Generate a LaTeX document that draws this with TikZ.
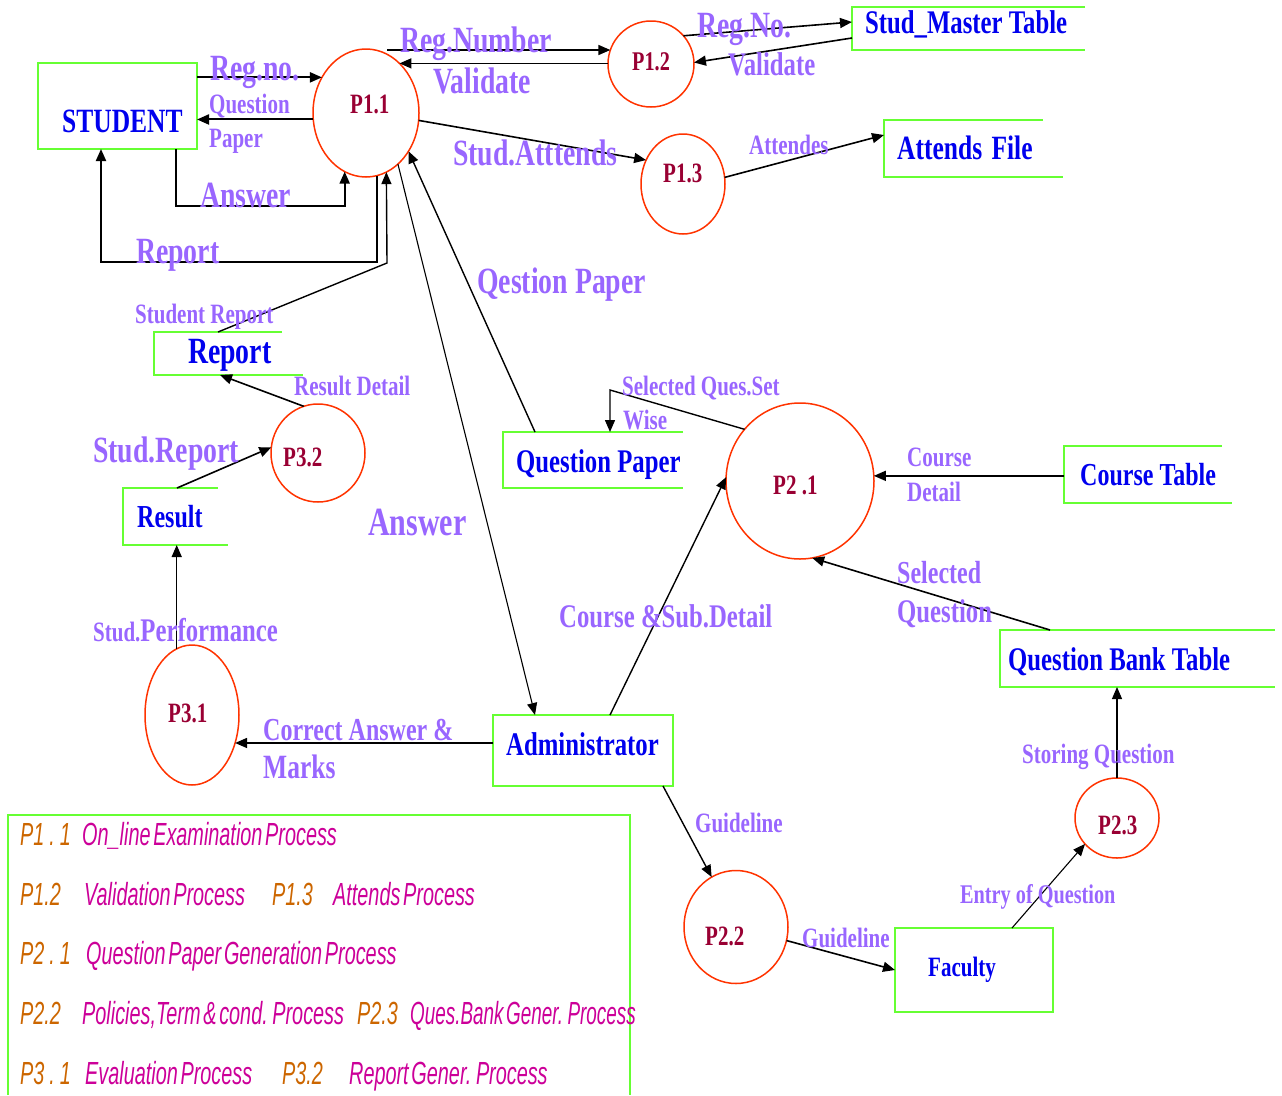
\documentclass[tikz,border=0pt]{standalone}
\usepackage{fontspec}
\usetikzlibrary{shapes.geometric,arrows.meta,calc}
\newfontfamily\tnr[FakeStretch=0.75]{Liberation Serif}
\newfontfamily\arn[FakeStretch=0.62,WordSpace=0.5]{Liberation Sans}
\newfontfamily\arnc[FakeStretch=0.59,WordSpace=0.5]{Liberation Sans}
\definecolor{lblpurple}{HTML}{9966FF}
\definecolor{boxblue}{HTML}{0000EE}
\definecolor{boxgreen}{HTML}{66FF33}
\definecolor{procred}{HTML}{FF3300}
\definecolor{proctext}{HTML}{990033}
\definecolor{legorange}{HTML}{CC6600}
\definecolor{legmagenta}{HTML}{CC0099}
\newcommand{\fsz}[1]{\fontsize{#1}{#1}\selectfont}
\begin{document}
\begin{tikzpicture}[x=1pt,y=-1pt,
  store/.style={rectangle, draw=none, inner sep=0pt, outer sep=0pt},
  fullbox/.style={rectangle, draw=boxgreen, line width=2pt, inner sep=0pt, outer sep=0pt},
  gline/.style={draw=boxgreen, line width=2pt},
  proc/.style={ellipse, draw=procred, line width=1.5pt, inner sep=0pt, outer sep=0pt},
  arr/.style={draw=black, line width=1.6pt, -{Triangle[length=12pt,width=10pt]}},
  thinarr/.style={arr, line width=1.1pt},
  boxtxt/.style={anchor=base west, inner sep=0pt, text=boxblue, font=\tnr\bfseries\fsz{#1}},
  ptxt/.style={anchor=base west, inner sep=0pt, text=proctext, font=\tnr\bfseries\fsz{#1}},
  lbl/.style={anchor=base west, inner sep=0pt, text=lblpurple, font=\tnr\bfseries\fsz{#1}},
  legp/.style={anchor=base west, inner sep=0pt, text=legorange, font=\arn\itshape\fsz{32}},
  legd/.style={anchor=base west, inner sep=0pt, text=legmagenta, font=\arn\itshape\fsz{32}}
]
\useasboundingbox (0,0) rectangle (1282,1095);

% ---------- external entities and data stores ----------
\node[fullbox, minimum width=159, minimum height=86] (student) at (117.5,106) {};
\node[store, minimum width=233, minimum height=43] (master) at (968.5,28.5) {};
\node[store, minimum width=159, minimum height=57] (attfile) at (963.5,148.5) {};
\node[store, minimum width=128, minimum height=43] (report) at (218,353.5) {};
\node[store, minimum width=95, minimum height=57] (result) at (170.5,516.5) {};
\node[store, minimum width=180, minimum height=56] (qpaper) at (593,460) {};
\node[store, minimum width=158, minimum height=57] (course) at (1143,474.5) {};
\node[store, minimum width=275, minimum height=57] (qbank) at (1137.5,658.5) {};
\node[fullbox, minimum width=180, minimum height=71] (admin) at (583,750.5) {};
\node[fullbox, line width=1.5pt, minimum width=158, minimum height=84] (faculty) at (974,970) {};

% open-ended store outlines
\draw[gline] (master.north east) -- (master.north west) -- (master.south west) -- (master.south east);
\draw[gline] (attfile.north east) -- (attfile.north west) -- (attfile.south west) -- ($(attfile.south east)+(20,0)$);
\draw[gline] (report.north east) -- (report.north west) -- (report.south west) -- ($(report.south east)+(21,0)$);
\draw[gline] (result.north east) -- (result.north west) -- (result.south west) -- ($(result.south east)+(10,0)$);
\draw[gline] (qpaper.north east) -- (qpaper.north west) -- (qpaper.south west) -- (qpaper.south east);
\draw[gline] (course.north east) -- (course.north west) -- (course.south west) -- ($(course.south east)+(10,0)$);
\draw[gline] (qbank.north east) -- (qbank.north west) -- (qbank.south west) -- (qbank.south east);

% ---------- processes ----------
\node[proc, minimum width=106, minimum height=128] (p11) at (366,113) {};
\node[proc, minimum width=86, minimum height=86] (p12) at (651,64) {};
\node[proc, minimum width=84, minimum height=100] (p13) at (683,184) {};
\node[proc, minimum width=148, minimum height=156] (p21) at (800,481) {};
\node[proc, minimum width=104, minimum height=113] (p22) at (736,927) {};
\node[proc, minimum width=84, minimum height=80] (p23) at (1117,818) {};
\node[proc, minimum width=94, minimum height=140] (p31) at (192,715) {};
\node[proc, minimum width=94, minimum height=98] (p32) at (318,453) {};

% ---------- titles ----------
\node[boxtxt=34] (studentT) at (62,132) {STUDENT};
\node[boxtxt=33] (masterT) at (865,33) {Stud\_Master Table};
\node[boxtxt=34] (attfileT) at (897,159) {Attends\kern3pt\ File};
\node[boxtxt=37] (reportT) at (188,363) {Report};
\node[boxtxt=32] (resultT) at (137,527) {Result};
\node[boxtxt=33] (qpaperT) at (516,472) {Question Paper};
\node[boxtxt=32] (courseT) at (1080,485) {Course Table};
\node[boxtxt=33] (qbankT) at (1008,670) {Question Bank Table};
\node[boxtxt=33] (adminT) at (506,755) {Administrator};
\node[boxtxt=28] (facultyT) at (928,976) {Faculty};

\node[ptxt=28] (p11T) at (350,113) {P1.1};
\node[ptxt=27] (p12T) at (632,70) {P1.2};
\node[ptxt=28] (p13T) at (663,182) {P1.3};
\node[ptxt=28] (p21T) at (773,494) {P2 .1};
\node[ptxt=28] (p22T) at (705,945) {P2.2};
\node[ptxt=28] (p23T) at (1098,834) {P2.3};
\node[ptxt=28] (p31T) at (168,722) {P3.1};
\node[ptxt=28] (p32T) at (283,466) {P3.2};

% ---------- data flows ----------
\draw[arr, line width=2pt] (student.east |- p11.141.5) -- (p11.141.5);
\draw[arr, line width=2pt] (p11.187.6) -- (student.east |- p11.187.6);
\draw[arr, line width=2pt] ($(student.south west)+(138,0)$) -- ++(0,57) -| (p11.250.3);
\draw[arr, line width=2pt] (p11.280) |- ($(student.south west)+(63,113)$) -- ($(student.south west)+(63,0)$);
\coordinate (srbend) at (387,263);
\draw[arr, line width=1.4pt] ($(report.north west)+(64,0)$) -- (srbend) -- (p11.289.7);
\draw[arr] (p11.70 |- p12.161) -- (p12.161);
\draw[arr] (p12.west |- p11.56.5) -- (p11.56.5);
\draw[arr] (p12.41) -- ($(master.north west)+(0,15)$);
\draw[arr] ($(master.north west)+(0,31)$) -- (p12.2);
\draw[arr] (p11.352.5) -- (p13.147.5);
\draw[arr] (p13.9) -- ($(attfile.north west)+(0,15)$);
\draw[thinarr, line width=1.4pt] ($(qpaper.north west)+(32,0)$) -- (p11.318.5);
\draw[thinarr] (p11.302.6) -- ($(admin.north west)+(42,0)$);
\draw[thinarr, line width=1.4pt] (p21.137.8) -- ($(qpaper.north west)+(107,-42)$) -- ($(qpaper.north west)+(107,0)$);
\draw[arr] (course.west |- p21.4.6) -- (p21.4.6);
\draw[arr] ($(qbank.north west)+(50,0)$) -- (p21.279.2);
\draw[thinarr, line width=1.4pt] ($(admin.north west)+(117,0)$) -- (p21.177);
\draw[thinarr, line width=1.4pt] ($(admin.south east)+(-10,0)$) -- (p22.116);
\draw[arr] (p22.345) -- (faculty.west);
\draw[thinarr] ($(faculty.north west)+(117,0)$) -- (p23.219);
\draw[thinarr] (p23.north) -- (p23.north |- qbank.south);
\draw[arr] (admin.west |- p31.327) -- (p31.327);
\draw[thinarr, line width=1.4pt] (p31.103.6) -- (p31.103.6 |- result.south);
\draw[arr] ($(result.north west)+(54,0)$) -- (p32.173);
\draw[arr] (p32.107) -- ($(report.south west)+(66,0)$);

% ---------- flow labels ----------
\node[lbl=37] (lRegno) at (210,80) {Reg.no.};
\node[lbl=28] (lQues) at (209,113) {Question};
\node[lbl=28] (lPaper) at (209,147) {Paper};
\node[lbl=37] (lAns1) at (200,207) {Answer};
\node[lbl=37] (lRep) at (136,263) {Report};
\node[lbl=37] (lRegNum) at (400,52) {Reg.Number};
\node[lbl=37] (lVal1) at (433,93) {Validate};
\node[lbl=37] (lRegNo) at (697,37) {Reg.No.};
\node[lbl=33] (lVal2) at (728,75) {Validate};
\node[lbl=37] (lAtt) at (453,165) {Stud.Atttends};
\node[lbl=28] (lAttds) at (749,154) {Attendes};
\node[lbl=37] (lQest) at (477,293) {Qestion Paper};
\node[lbl=28] (lStRep) at (135,323) {Student Report};
\node[lbl=28] (lResDet) at (294,395) {Result Detail};
\node[lbl=37] (lStudRep) at (93,462) {Stud.Report};
\node[lbl=40] (lAns2) at (368,535) {Answer};
\node[lbl=28] (lSelSet) at (622,395) {Selected Ques.Set};
\node[lbl=28] (lWise) at (623,429) {Wise};
\node[lbl=28] (lCourse) at (907,466) {Course};
\node[lbl=28] (lDetail) at (907,501) {Detail};
\node[lbl=32] (lSel) at (897,583) {Selected};
\node[lbl=33] (lSelQ) at (897,622) {Question};
\node[lbl=33] (lCSD) at (559,627) {Course \&Sub.Detail};
\node[lbl=28] (lPerf) at (93,641) {Stud.{\fsz{33}Performance}};
\node[lbl=32] (lCorr) at (263,740) {Correct Answer \&};
\node[lbl=34] (lMarks) at (263,778) {Marks};
\node[lbl=28] (lGuide1) at (695,832) {Guideline};
\node[lbl=28] (lGuide2) at (802,947) {Guideline};
\node[lbl=27] (lEntry) at (960,903) {Entry of Question};
\node[lbl=28] (lStore) at (1022,763) {Storing Question};

% ---------- legend ----------
\draw[gline, line width=1.5pt] (8,1095) -- (8,815) -- (630,815) -- (630,1095);
\node[legp] (k11) at (20,845) {P1\kern5pt.\kern5pt1};
\node[legd] (d11) at (82,845) {On\_line Examination Process};
\node[legp] (k12) at (20,905) {P1.2};
\node[legd] (d12) at (84,905) {Validation Process};
\node[legp] (k13) at (272,905) {P1.3};
\node[legd] (d13) at (333,905) {Attends Process};
\node[legp] (k21) at (20,964) {P2\kern5pt.\kern5pt1};
\node[legd] (d21) at (86,964) {Question Paper Generation Process};
\node[legp] (k22) at (20,1024) {P2.2};
\node[legd] (d22) at (82,1024) {Policies,Term \& cond. Process};
\node[legp] (k23) at (357,1024) {P2.3};
\node[legd, font=\arnc\itshape\fsz{32}] (d23) at (410,1024) {Ques.Bank Gener. Process};
\node[legp] (k31) at (20,1084) {P3\kern5pt.\kern5pt1};
\node[legd] (d31) at (85,1084) {Evaluation Process};
\node[legp] (k32) at (282,1084) {P3.2};
\node[legd] (d32) at (349,1084) {Report Gener. Process};
\end{tikzpicture}
\end{document}
